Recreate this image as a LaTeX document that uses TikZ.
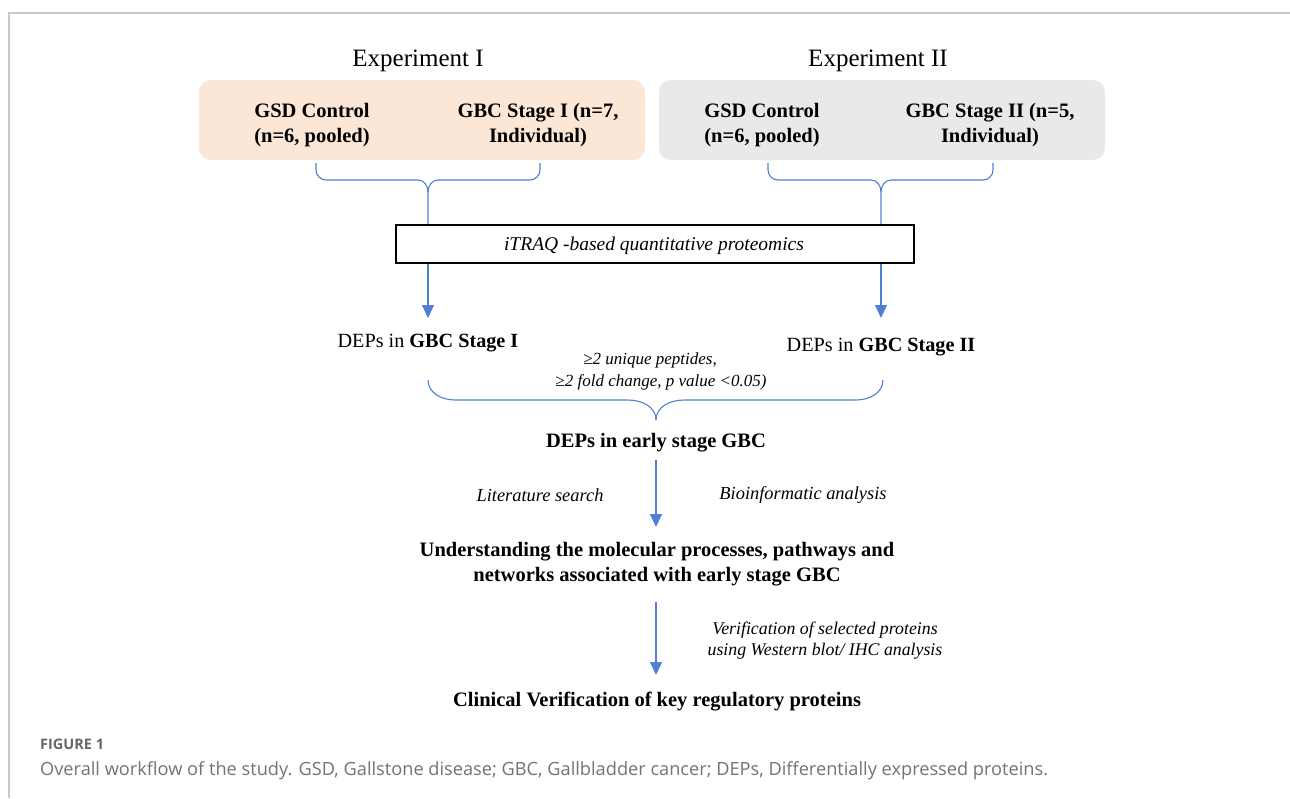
\documentclass[tikz,border=0pt]{standalone}
\usepackage{fontspec}
\setmainfont{Liberation Serif}
\newfontfamily\capfont{Open Sans}
\usetikzlibrary{arrows.meta}
\definecolor{peach}{HTML}{FCE6D6}
\definecolor{lgray}{HTML}{EAE9E9}
\definecolor{lblue}{HTML}{4F80D6}
\definecolor{framec}{HTML}{C8C8C8}
\tikzset{
  conn/.style={draw=lblue, line width=1.1pt},
  arr/.style={conn, -{Triangle[width=12pt,length=13pt]}},
  grpbox/.style={rounded corners=12pt, draw=none},
  lbl/.style={inner sep=0pt, align=center, font=\fontsize{20.2}{25}\selectfont},
  blbl/.style={lbl, font=\fontsize{20.5}{25}\selectfont\bfseries},
  ilbl/.style={lbl, font=\fontsize{18.4}{22}\selectfont\itshape},
}
\begin{document}
\begin{tikzpicture}[x=1pt,y=-1pt]
\useasboundingbox (0,0) rectangle (1290,798);
% frame
\draw[framec, line width=1.2pt] (9,798) -- (9,13) -- (1290,13);
% titles
\node[lbl, font=\fontsize{25}{30}\selectfont] (exp1) at (418,61) {Experiment I};
\node[lbl, font=\fontsize{25}{30}\selectfont] (exp2) at (878,61) {Experiment II};
% group boxes
\filldraw[grpbox, fill=peach] (199,80) rectangle (645,160);
\filldraw[grpbox, fill=lgray] (659,80) rectangle (1105,160);
\node[blbl] (gsd1) at (312,125) {GSD Control\\(n=6, pooled)};
\node[blbl] (gbc1) at (538,125) {GBC Stage I (n=7,\\Individual)};
\node[blbl] (gsd2) at (762,125) {GSD Control\\(n=6, pooled)};
\node[blbl] (gbc2) at (990,125) {GBC Stage II (n=5,\\Individual)};
% braces top
\coordinate (b1l) at (316,163);
\coordinate (b1r) at (540,163);
\coordinate (b1m) at (428,192);
\coordinate (b2l) at (768,163);
\coordinate (b2r) at (993,163);
\coordinate (b2m) at (881,192);
% iTRAQ box
\node[draw=black, line width=2.5pt, minimum width=518pt, minimum height=38pt, inner sep=0pt] (itraq) at (655,244) {};
\node[inner sep=0pt, font=\fontsize{19.5}{22}\selectfont\itshape] (itraqt) at (654,246) {iTRAQ -based quantitative proteomics};
\draw[conn] (b1l) -- ++(0,7) to[out=-90,in=180] ++(10,10) -- (418,180) to[out=0,in=90] (b1m) -- (b1m |- itraq.north);
\draw[conn] (b1r) -- ++(0,7) to[out=-90,in=0] ++(-10,10) -- (438,180) to[out=180,in=90] (b1m);
\draw[conn] (b2l) -- ++(0,7) to[out=-90,in=180] ++(10,10) -- (871,180) to[out=0,in=90] (b2m) -- (b2m |- itraq.north);
\draw[conn] (b2r) -- ++(0,7) to[out=-90,in=0] ++(-10,10) -- (891,180) to[out=180,in=90] (b2m);
% DEPs
\node[lbl] (dep1) at (428,343) {DEPs in \textbf{GBC Stage I}};
\node[lbl] (dep2) at (881,347) {DEPs in \textbf{GBC Stage II}};
\coordinate (a1e) at (428,318);
\coordinate (a2e) at (881,318);
\draw[arr] (itraq.south -| a1e) -- (a1e);
\draw[arr] (itraq.south -| a2e) -- (a2e);
\node[lbl, font=\fontsize{17}{21}\selectfont\itshape] (crit1) at (650,360) {≥2 unique peptides,};
\node[lbl, font=\fontsize{17}{21}\selectfont\itshape] (crit2) at (661,382) {≥2 fold change, p value <0.05)};
% bottom brace
\coordinate (b3l) at (428,380);
\coordinate (b3r) at (883,380);
\coordinate (b3m) at (656,420);
\draw[conn] (b3l) to[out=-90,in=180] (455,400) -- (628,400) to[out=0,in=90] (b3m);
\draw[conn] (b3r) to[out=-90,in=0] (856,400) -- (684,400) to[out=180,in=90] (b3m);
% early stage
\node[blbl] (early) at (656,443) {DEPs in early stage GBC};
\coordinate (a3e) at (656,527);
\draw[arr] (656,460) -- (a3e);
\node[ilbl] (lit) at (540,495) {Literature search};
\node[ilbl] (bio) at (803,495) {Bioinformatic analysis};
\node[blbl] (under) at (657,564) {Understanding the molecular processes, pathways and\\networks associated with early stage GBC};
\coordinate (a4e) at (656,675);
\draw[arr] (656,602) -- (a4e);
\node[ilbl, font=\fontsize{17.8}{21}\selectfont\itshape] (verif) at (825,641) {Verification of selected proteins\\using Western blot/ IHC analysis};
\node[blbl] (clin) at (657,702) {Clinical Verification of key regulatory proteins};
% caption
\node[anchor=base west, inner sep=0pt, text=black!60, font=\capfont\fontsize{14.5}{16}\selectfont\bfseries] (figlab) at (40,749) {FIGURE 1};
\node[anchor=base west, inner sep=0pt, text=black!55, font=\capfont\fontsize{18.2}{20}\selectfont] (cap) at (40,775) {Overall workflow of the study. GSD, Gallstone disease; GBC, Gallbladder cancer; DEPs, Differentially expressed proteins.};
\end{tikzpicture}
\end{document}
